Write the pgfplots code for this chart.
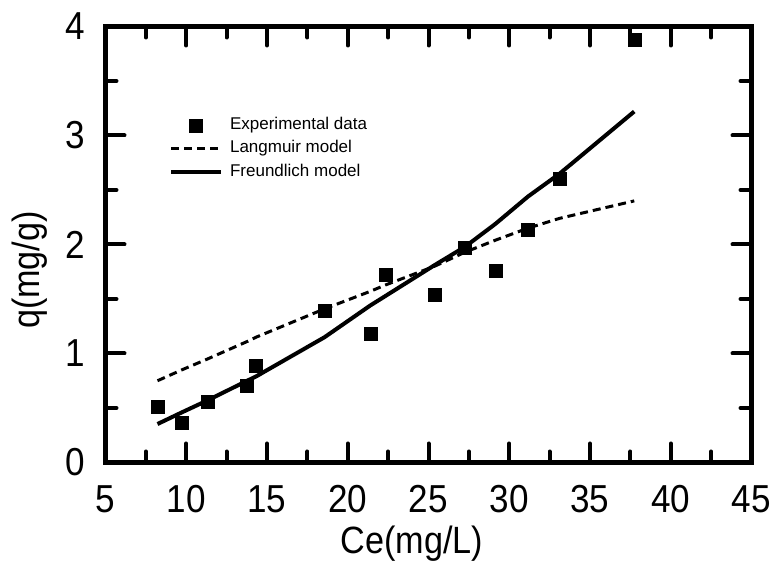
\documentclass[border=0pt]{standalone}
\usepackage{fontspec}
\setmainfont{Liberation Sans}
\newfontfamily\narrowfont{Liberation Sans}[FakeStretch=0.9]
\usepackage{pgfplots}
\pgfplotsset{compat=1.18}
\begin{document}
\begin{tikzpicture}
\useasboundingbox (-105.5pt,-101.5pt) rectangle (667.5pt,462.5pt);
\begin{axis}[
  scale only axis, width=646pt, height=436pt,
  xmin=5, xmax=45, ymin=0, ymax=4,
  xtick={5,10,...,45}, ytick={0,1,2,3,4},
  minor x tick num=1, minor y tick num=1,
  tick align=inside,
  major tick length=19pt, minor tick length=11pt,
  every tick/.style={black, line width=4pt, line cap=round},
  axis line style={line width=5pt},
  /pgf/number format/assume math mode=true,
  tick label style={font=\narrowfont\fontsize{39}{44}\selectfont},
  xticklabel style={inner sep=0pt, yshift=-23pt},
  yticklabel style={inner sep=0pt, xshift=-20pt},
  xlabel={Ce(mg/L)}, ylabel={q(mg/g)},
  label style={font=\narrowfont\fontsize{38}{42}\selectfont},
  xlabel style={at={(axis description cs:0.474,-0.208)}, anchor=base},
  ylabel style={at={(axis description cs:-0.117,0.4415)}, anchor=center},
  legend style={draw=none, fill=none, font=\fontsize{17}{19}\selectfont,
    at={(axis description cs:0.0981,0.7947)}, anchor=north west,
    inner sep=0pt, row sep=5.5pt, column sep=6pt,
    nodes={inner sep=1pt, text height=12pt, text depth=4pt}},
  legend cell align=left,
  legend image code/.code={\draw[mark repeat=2,mark phase=2,#1] plot coordinates {(0pt,0pt) (25pt,0pt) (50pt,0pt)};},
]
\addplot[only marks, mark=square*, mark size=6.5pt, black] coordinates {
(8.22,0.51)(9.73,0.365)(11.32,0.56)(13.77,0.70)(14.33,0.89)(18.57,1.39)(21.39,1.185)(22.36,1.72)(25.37,1.543)(27.27,1.974)(29.15,1.76)(31.16,2.14)(33.12,2.60)(37.74,3.88)
};
\addlegendentry{Experimental data}
\addplot[black, line width=3pt, dash pattern=on 8pt off 5pt] coordinates {
(8.22,0.75)(9.73,0.85)(11.32,0.95)(13.77,1.11)(14.33,1.15)(18.57,1.41)(21.39,1.57)(22.36,1.63)(25.37,1.80)(27.27,1.93)(29.15,2.04)(31.16,2.15)(33.12,2.24)(37.74,2.40)
};
\addlegendentry{Langmuir model}
\addplot[black, line width=4pt] coordinates {
(8.22,0.353)(9.73,0.46)(11.32,0.57)(13.77,0.75)(14.33,0.79)(18.57,1.15)(21.39,1.44)(22.36,1.53)(25.37,1.81)(27.27,1.98)(29.15,2.19)(31.16,2.44)(33.12,2.65)(37.74,3.22)
};
\addlegendentry{Freundlich model}
\end{axis}
\end{tikzpicture}
\end{document}
